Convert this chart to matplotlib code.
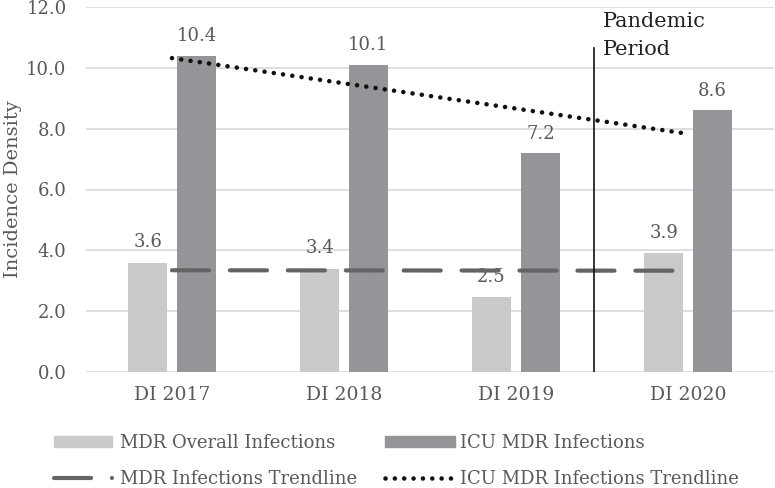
import numpy as np
import matplotlib
matplotlib.use("Agg")
import matplotlib.pyplot as plt
from matplotlib.patches import Patch
from matplotlib.lines import Line2D

plt.rcParams['font.family'] = ['DejaVu Serif']

categories = ["DI 2017", "DI 2018", "DI 2019", "DI 2020"]
mdr_overall = [3.6, 3.4, 2.45, 3.9]
icu_mdr = [10.4, 10.1, 7.2, 8.6]
mdr_labels = ["3.6", "3.4", "2.5", "3.9"]
icu_labels = ["10.4", "10.1", "7.2", "8.6"]
yticks = [0, 2, 4, 6, 8, 10, 12]
pandemic_x = 2.453
pandemic_top = 10.65

LIGHT = "#C9CACC"
DARK = "#939598"
TXT = "#595959"

fig = plt.figure(figsize=(7.75, 4.88), dpi=100)
ax = fig.add_axes([86/775, (488-372)/488, (774-86)/775, (372-7)/488])

x = np.arange(len(categories))
w = 0.227
off = 0.142
b1 = ax.bar(x - off, mdr_overall, width=w, color=LIGHT, zorder=2)
b2 = ax.bar(x + off, icu_mdr, width=w, color=DARK, zorder=2)

for xi, v, lab in zip(x - off, mdr_overall, mdr_labels):
    ax.annotate(lab, (xi, v), xytext=(0, 15), textcoords="offset points",
                ha="center", va="center", fontsize=13, color=TXT, zorder=3)
for xi, v, lab in zip(x + off, icu_mdr, icu_labels):
    ax.annotate(lab, (xi, v), xytext=(0, 14), textcoords="offset points",
                ha="center", va="center", fontsize=13, color=TXT, zorder=3)

# linear trendlines
k1 = np.polyfit(x, mdr_overall, 1)
k2 = np.polyfit(x, icu_mdr, 1)
xt = np.array([x[0], x[-1]])
ax.plot(xt, np.polyval(k1, xt), color="#646464", lw=3, linestyle=(0, (8.9, 5.0)),
        dash_capstyle="round", solid_capstyle="round", zorder=4)
ax.plot(xt, np.polyval(k2, xt), color="#111111", lw=3.3, linestyle=(0, (0.01, 2.03)),
        dash_capstyle="round", zorder=4)

# pandemic marker
ax.plot([pandemic_x, pandemic_x], [0, pandemic_top], color="#111111", lw=1.2, zorder=4)
ax.text(pandemic_x + 0.052, 11.83, "Pandemic\nPeriod", ha="left", va="top",
        fontsize=15, color="#222222", linespacing=1.6)

ax.set_xlim(-0.5, 3.5)
ax.set_ylim(0, 12)
ax.set_yticks(yticks)
ax.set_yticklabels([f"{t:.1f}" for t in yticks])
ax.set_xticks(x)
ax.set_xticklabels(categories)
ax.tick_params(axis="y", length=0, pad=14, labelsize=13, labelcolor=TXT)
ax.tick_params(axis="x", length=0, pad=10, labelsize=13.5, labelcolor=TXT)
ax.grid(axis="y", color="#D9D9D9", lw=1.2, zorder=0)
ax.set_axisbelow(True)
for s in ax.spines.values():
    s.set_visible(False)
ax.set_ylabel("Incidence Density", fontsize=14, color=TXT)
ax.yaxis.set_label_coords(-0.093, 0.5)

h_light = Patch(color=LIGHT)
h_dark = Patch(color=DARK)
h_tr1 = Line2D([], [], color="#646464", lw=3, linestyle=(0, (8.9, 5.0)), dash_capstyle="round")
h_tr2 = Line2D([], [], color="#111111", lw=3.3, linestyle=(0, (0.01, 2.03)), dash_capstyle="round")

leg1 = fig.legend([h_light, h_tr1], ["MDR Overall Infections", "MDR Infections Trendline"],
                  loc="upper left", bbox_to_anchor=(54/775, 1 - 434/488), frameon=False,
                  fontsize=13, handlelength=3.2, handleheight=0.6, handletextpad=0.45,
                  labelspacing=0.98, borderpad=0, borderaxespad=0, labelcolor=TXT)
leg2 = fig.legend([h_dark, h_tr2], ["ICU MDR Infections", "ICU MDR Infections Trendline"],
                  loc="upper left", bbox_to_anchor=(385/775, 1 - 434/488), frameon=False,
                  fontsize=13, handlelength=3.85, handleheight=0.6, handletextpad=0.3,
                  labelspacing=0.98, borderpad=0, borderaxespad=0, labelcolor=TXT)

fig.savefig("out.png", dpi=100)
